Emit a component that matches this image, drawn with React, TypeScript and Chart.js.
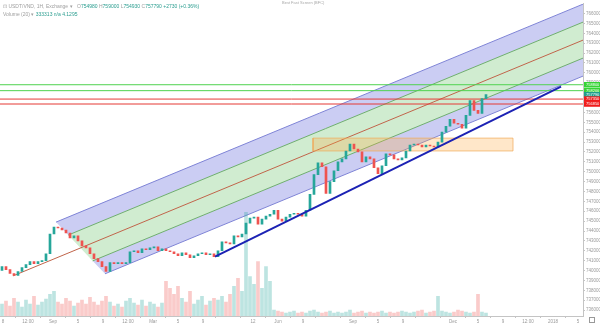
import React, { useEffect, useRef } from 'react';
import { Chart, registerables } from 'chart.js';

Chart.register(...registerables);

// ---- data ----
const firstOpen = 740000;
const closes = [
  740400, 740100, 739700, 739500, 739900, 740300, 740600, 740900, 740700, 740900,
  741000, 741700, 743700, 744400, 744300, 744100, 743800, 743300, 743500, 743000,
  742500, 742300, 741700, 741200, 740900, 740400, 739900, 740800, 740700, 740800,
  740700, 740800, 741900, 742000, 741800, 742200, 742100, 742300, 742400, 742000,
  742200, 742000, 741900, 741700, 741500, 741800, 741600, 741300, 741500, 741700,
  741800, 741600, 741700, 741400, 742000, 742900, 742800, 742700, 743500, 743400,
  743700, 744800, 745300, 745400, 744700, 745200, 745500, 745700, 746100, 745200,
  745000, 745400, 745700, 745800, 745700, 745500, 746100, 747700, 749700, 750900,
  750500, 747800, 749000, 750100, 751000, 751300, 752100, 752800, 752300, 752000,
  751000, 751500, 751300, 750400, 749800, 750600, 751800, 751700, 751300, 751200,
  751400, 752100, 752700, 752800, 752700, 752500, 752700, 752600, 752500, 753000,
  754000, 754600, 755300, 754900, 754800, 754400, 755700, 757200, 756200, 755900,
  757400, 757800,
];
const volumes = [
  12, 15, 10, 18, 14, 9, 16, 12, 20, 11, 14, 17,
  22, 25, 14, 12, 18, 15, 10, 13, 16, 12, 19, 14, 11, 15,
  20, 14, 10, 12, 9, 15, 18, 13, 11, 16, 10, 14, 12, 9, 13,
  35, 28, 22, 30, 18, 14, 25, 12, 16, 20, 11, 15, 18,
  16, 20, 14, 22,
  30, 38, 25, 105, 40, 32, 55, 28, 50, 35,
  6, 5, 4, 3, 4, 5, 3, 4, 3, 5,
  6, 4, 3, 4, 5, 3, 4, 3, 4, 6,
  3, 4, 5, 3, 4, 3, 4, 5, 3, 4,
  3, 4, 5, 4, 3, 4, 5, 6, 3, 4,
  5, 20, 5, 4, 3, 4, 6, 5, 4, 3,
  4, 22, 4, 3,
];
const xTickLabels = [
  '8', '12:00', 'Sep', '5', '9', '12:00', 'Mar', '5', '9', '', '12', 'Jun',
  '9', '', 'Sep', '5', '9', '', 'Dec', '5', '9', '12:00', '2018', '5',
];
const yTickFirst = 736000;
const yTickLast = 766000;
const yTickStep = 1000;
const forkAnchors = [
  { x: 2.75, y: 739460 },
  { x: 13.5, y: 744900 },
  { x: 25.75, y: 739670 },
];
const greenLevels = [758800, 758200];
const redLevels = [757350, 756850];
const tagValues = [758800, 758200, 757790, 757350, 756850];
const tagColors = ['#35d435', '#35d435', '#1f9e8c', '#f01c1c', '#f01c1c'];
const zoneX = [77.75, 127.75];
const zoneY = [752100, 753400];
const trendPoints = [
  { x: 53.25, y: 741400 },
  { x: 139.75, y: 758600 },
];

const X_MIN = -0.5;
const X_MAX = 145.25;
const Y_MIN = 735400;
const Y_MAX = 767000;

const UP = '#26a69a';
const DOWN = '#ef5350';

export default function App() {
  const canvasRef = useRef<HTMLCanvasElement | null>(null);

  useEffect(() => {
    const canvas = canvasRef.current;
    if (!canvas) return;

    const opens = closes.map((c, i) => (i === 0 ? firstOpen : closes[i - 1]));
    const candleColors = closes.map((c, i) => (c >= opens[i] ? UP : DOWN));
    const volColors = closes.map((c, i) =>
      c >= opens[i] ? 'rgba(38,166,154,0.30)' : 'rgba(239,83,80,0.30)'
    );

    // Andrews' pitchfork from three anchors
    const [A, B, C] = forkAnchors;
    const M = { x: (B.x + C.x) / 2, y: (B.y + C.y) / 2 };
    const slope = (M.y - A.y) / (M.x - A.x);
    const anchorAt = (l: number) => ({ x: M.x + l * (B.x - M.x), y: M.y + l * (B.y - M.y) });
    const endAt = (l: number) => {
      const p = anchorAt(l);
      return { x: X_MAX, y: p.y + slope * (X_MAX - p.x) };
    };
    const band = (l1: number, l2: number) => [anchorAt(l1), endAt(l1), endAt(l2), anchorAt(l2), anchorAt(l1)];
    const blueFill = 'rgba(92,100,218,0.32)';
    const greenFill = 'rgba(100,192,100,0.30)';

    const lineBase = {
      type: 'line' as const,
      pointRadius: 0,
      borderWidth: 1,
      tension: 0,
      fill: false,
    };

    const datasets: any[] = [
      { ...lineBase, data: band(1, 0.5), backgroundColor: blueFill, borderWidth: 0, borderColor: 'rgba(0,0,0,0)', fill: 'shape', order: 20 },
      { ...lineBase, data: band(0.5, 0), backgroundColor: greenFill, borderWidth: 0, borderColor: 'rgba(0,0,0,0)', fill: 'shape', order: 20 },
      { ...lineBase, data: band(0, -0.5), backgroundColor: greenFill, borderWidth: 0, borderColor: 'rgba(0,0,0,0)', fill: 'shape', order: 20 },
      { ...lineBase, data: band(-0.5, -1), backgroundColor: blueFill, borderWidth: 0, borderColor: 'rgba(0,0,0,0)', fill: 'shape', order: 20 },
      { ...lineBase, data: [anchorAt(1), endAt(1)], borderColor: '#7f84d6', order: 15 },
      { ...lineBase, data: [anchorAt(-1), endAt(-1)], borderColor: '#7f84d6', order: 15 },
      { ...lineBase, data: [anchorAt(0.5), endAt(0.5)], borderColor: '#6fae6f', order: 15 },
      { ...lineBase, data: [anchorAt(-0.5), endAt(-0.5)], borderColor: '#6fae6f', order: 15 },
      { ...lineBase, data: [A, endAt(0)], borderColor: '#c0644a', order: 15 },
      {
        ...lineBase,
        data: [
          { x: zoneX[0], y: zoneY[0] },
          { x: zoneX[1], y: zoneY[0] },
          { x: zoneX[1], y: zoneY[1] },
          { x: zoneX[0], y: zoneY[1] },
          { x: zoneX[0], y: zoneY[0] },
        ],
        backgroundColor: 'rgba(255,170,60,0.28)',
        borderColor: 'rgba(240,170,90,0.7)',
        fill: 'shape',
        order: 12,
      },
      ...greenLevels.map((v) => ({
        ...lineBase,
        data: [{ x: X_MIN, y: v }, { x: X_MAX, y: v }],
        borderColor: '#4fd24f',
        order: 11,
      })),
      ...redLevels.map((v) => ({
        ...lineBase,
        data: [{ x: X_MIN, y: v }, { x: X_MAX, y: v }],
        borderColor: '#e53935',
        order: 11,
      })),
      {
        type: 'bar',
        data: volumes.map((v, i) => ({ x: i, y: v })),
        backgroundColor: volColors,
        yAxisID: 'vol',
        barThickness: 3,
        grouped: false,
        order: 10,
      },
      {
        type: 'bar',
        data: closes.map((c, i) => ({ x: i, y: [opens[i], c] })),
        backgroundColor: candleColors,
        yAxisID: 'y',
        barThickness: 2,
        minBarLength: 1,
        grouped: false,
        order: 2,
      },
      { ...lineBase, data: trendPoints, borderColor: '#1c22b4', borderWidth: 2, order: 1 },
    ];

    const priceTagPlugin = {
      id: 'priceTags',
      afterDraw(chart: any) {
        const { ctx, chartArea, scales } = chart;
        ctx.save();
        tagValues.forEach((v, k) => {
          const y = scales.y.getPixelForValue(v);
          ctx.fillStyle = tagColors[k];
          ctx.fillRect(chartArea.right + 1, y - 2.75, chart.width - chartArea.right - 1, 5.5);
          ctx.fillStyle = '#ffffff';
          ctx.font = '4px "Liberation Sans", Arial, sans-serif';
          ctx.textBaseline = 'middle';
          ctx.textAlign = 'left';
          ctx.fillText(String(v), chartArea.right + 3, y + 0.3);
        });
        ctx.restore();
      },
    };

    const tickFont = { size: 4.5, family: '"Liberation Sans", Arial, sans-serif' };

    const chart = new Chart(canvas, {
      type: 'bar',
      data: { datasets },
      plugins: [priceTagPlugin],
      options: {
        animation: false,
        responsive: true,
        maintainAspectRatio: false,
        layout: { padding: 0 },
        plugins: {
          legend: { display: false },
          tooltip: { enabled: false },
        },
        scales: {
          x: {
            type: 'linear',
            min: X_MIN,
            max: X_MAX,
            offset: false,
            afterBuildTicks: (scale: any) => {
              scale.ticks = xTickLabels.map((_, k) => ({ value: 0.25 + 6.25 * k }));
            },
            afterFit: (scale: any) => {
              scale.height = 9;
            },
            ticks: {
              autoSkip: false,
              maxRotation: 0,
              padding: 1,
              color: '#9a9a9a',
              font: tickFont,
              callback: (_v: any, idx: number) => xTickLabels[idx] ?? '',
            },
            grid: { drawOnChartArea: false, tickLength: 2, color: '#c4c4c4' },
            border: { display: true, color: '#c4c4c4' },
          },
          y: {
            type: 'linear',
            position: 'right',
            min: Y_MIN,
            max: Y_MAX,
            afterBuildTicks: (scale: any) => {
              const t: any[] = [];
              for (let v = yTickFirst; v <= yTickLast; v += yTickStep) t.push({ value: v });
              scale.ticks = t;
            },
            afterFit: (scale: any) => {
              scale.width = 17;
            },
            ticks: {
              autoSkip: false,
              padding: 1,
              color: '#9a9a9a',
              font: tickFont,
              callback: (v: any) => String(v),
            },
            grid: { drawOnChartArea: false, tickLength: 2, color: '#c4c4c4' },
            border: { display: true, color: '#c4c4c4' },
          },
          vol: {
            type: 'linear',
            display: false,
            min: 0,
            max: 316,
          },
        },
      } as any,
    });

    return () => chart.destroy();
  }, []);

  const small: React.CSSProperties = {
    position: 'absolute',
    fontFamily: '"Liberation Sans", Arial, sans-serif',
    fontSize: '5px',
    lineHeight: '6px',
    whiteSpace: 'nowrap',
    pointerEvents: 'none',
  };

  return (
    <div style={{ position: 'fixed', left: 0, top: 0, width: 600, height: 325, background: '#fff', overflow: 'hidden' }}>
      <canvas ref={canvasRef} style={{ width: 600, height: 325 }} />
      <div style={{ ...small, left: 3, top: 3, color: '#a0a0a0' }}>
        ⊡ USDT/VND, 1H, Exchange ▾
      </div>
      <div style={{ ...small, left: 77, top: 3, color: '#2a9d8f' }}>
        <span style={{ color: '#a0a0a0' }}>O</span>754980 <span style={{ color: '#a0a0a0' }}>H</span>759000{' '}
        <span style={{ color: '#a0a0a0' }}>L</span>754930 <span style={{ color: '#a0a0a0' }}>C</span>757790 +2730 (+0.36%)
      </div>
      <div style={{ ...small, left: 3, top: 11, color: '#a0a0a0' }}>
        Volume (20) ▾ <span style={{ color: '#2a9d8f' }}>333313</span> <span style={{ color: '#2a9d8f' }}>n/a 4.1295</span>
      </div>
      <div style={{ ...small, left: 282, top: 0, color: '#a8a8a8', fontSize: '4px' }}>Best Fast Screen (BFC)</div>
      <div
        style={{
          position: 'absolute',
          left: 589,
          top: 317,
          width: 4,
          height: 4,
          border: '1px solid #999',
          pointerEvents: 'none',
        }}
      />
    </div>
  );
}
